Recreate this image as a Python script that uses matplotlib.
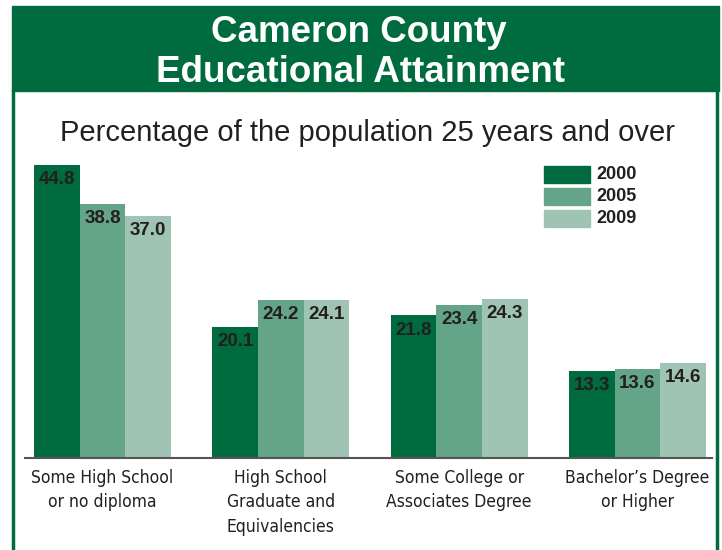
import matplotlib.pyplot as plt
from matplotlib.patches import Rectangle
from matplotlib.lines import Line2D
from matplotlib import font_manager
import numpy as np

# ---------- Данные ----------
CATEGORIES = ["Some High School\nor no diploma",
              "High School\nGraduate and\nEquivalencies",
              "Some College or\nAssociates Degree",
              "Bachelor\u2019s Degree\nor Higher"]
YEARS = ["2000", "2005", "2009"]
V2000 = [44.8, 20.1, 21.8, 13.3]
V2005 = [38.8, 24.2, 23.4, 13.6]
V2009 = [37.0, 24.1, 24.3, 14.6]

COLORS = ["#006b3f", "#64a58a", "#9fc4b3"]
GREEN = "#006b3f"
TXT = "#231f20"
W, H = 722, 550

plt.rcParams['font.family'] = ['Liberation Sans', 'DejaVu Sans']


def narrow_font():
    """Ищем узкий шрифт для подписей категорий, если он вообще есть."""
    names = {f.name for f in font_manager.fontManager.ttflist}
    if "Liberation Sans Narrow" in names:
        return dict(family="Liberation Sans Narrow", fontsize=14, linespacing=1.3)
    for f in font_manager.fontManager.ttflist:
        if f.name == "DejaVu Sans" and "Condensed" in f.fname and "Bold" not in f.fname \
                and "Oblique" not in f.fname:
            return dict(family="DejaVu Sans", fontstretch="condensed", fontsize=12.5,
                        linespacing=1.45)
    return dict(family="Liberation Sans", fontsize=12.5, linespacing=1.45)


fig = plt.figure(figsize=(W / 100, H / 100), dpi=100)

# шапка и зелёная рамка
fig.patches.append(Rectangle((12 / W, 1 - 91 / H), (719 - 12) / W, 85 / H,
                             transform=fig.transFigure, color=GREEN, zorder=0))
for xp in (13.5, 717):
    fig.lines.append(Line2D([xp / W, xp / W], [0, 1 - 91 / H],
                            transform=fig.transFigure, color=GREEN, lw=2.5))
fig.text(359 / W, 1 - 33 / H, "Cameron County", color="white", fontsize=26.5,
         fontweight="bold", ha="center", va="center")
fig.text(360 / W, 1 - 73 / H, "Educational Attainment", color="white", fontsize=26.5,
         fontweight="bold", ha="center", va="center")
fig.text(367 / W, 1 - 133 / H, "Percentage of the population 25 years and over",
         color=TXT, fontsize=21, ha="center", va="center")

# ---------- оси ----------
ax = fig.add_axes([25 / W, (H - 458) / H, (712 - 25) / W, (458 - 150) / H])
ax.set_xlim(-0.435, 3.418)
ax.set_ylim(0, (458 - 150) / 6.54)
for s in ("top", "right", "left"):
    ax.spines[s].set_visible(False)
ax.spines["bottom"].set_color("#555555")
ax.spines["bottom"].set_linewidth(1.5)
ax.set_yticks([])
ax.tick_params(axis="x", length=0, pad=8)

x = np.arange(len(CATEGORIES))
bw = 0.256
for i, (vals, col) in enumerate(zip([V2000, V2005, V2009], COLORS)):
    pos = x + (i - 1) * bw
    ax.bar(pos, vals, width=bw, color=col, zorder=1)
    for px, v in zip(pos, vals):
        ax.annotate(f"{v:.1f}", (px, v), xytext=(0, -10.5), textcoords="offset points",
                    ha="center", va="center", fontsize=13.5, fontweight="bold", color=TXT)

ax.set_xticks(x)
ax.set_xticklabels(CATEGORIES, color=TXT, **narrow_font())

# легенда вручную
for i, (yr, col) in enumerate(zip(YEARS, COLORS)):
    top = 166 + i * 22
    fig.patches.append(Rectangle((544 / W, 1 - (top + 17) / H), 46 / W, 17 / H,
                                 transform=fig.transFigure, color=col))
    fig.text(596 / W, 1 - (top + 8.5) / H, yr, fontsize=13, fontweight="bold",
             color=TXT, va="center", ha="left")

plt.savefig("out.png", dpi=100)
